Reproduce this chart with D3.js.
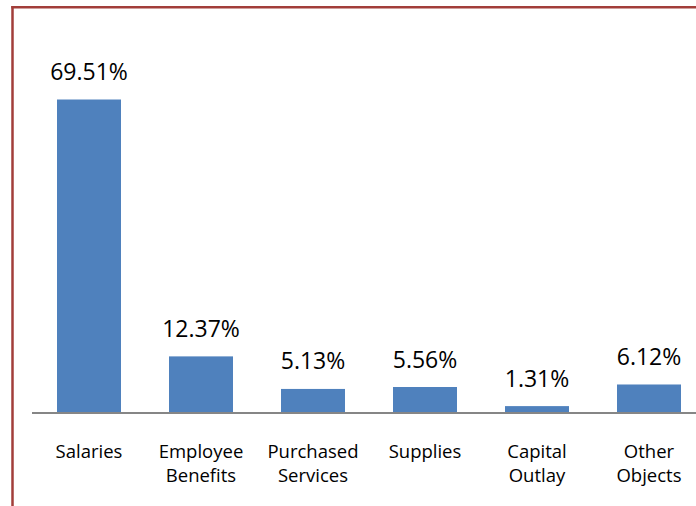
<!DOCTYPE html>
<html>
<head>
<meta charset="utf-8">
<script src="https://cdn.jsdelivr.net/npm/d3@7/dist/d3.min.js"></script>
<style>
  html, body { margin: 0; padding: 0; background: #ffffff; }
  svg { display: block; }
</style>
</head>
<body>
<svg id="chart" width="696" height="506"></svg>
<script>
// Expenditure shares by object
const categories = [
  ["Salaries"],
  ["Employee", "Benefits"],
  ["Purchased", "Services"],
  ["Supplies"],
  ["Capital", "Outlay"],
  ["Other", "Objects"]
];
const values = [69.51, 12.37, 5.13, 5.56, 1.31, 6.12];
const valueLabels = ["69.51%", "12.37%", "5.13%", "5.56%", "1.31%", "6.12%"];

const keys = categories.map(c => c.join(" "));
const svg = d3.select("#chart");
const font = "'Open Sans', 'Noto Sans', sans-serif";

const x = d3.scaleBand()
  .domain(keys)
  .range([33, 705])
  .paddingInner(0.4286)
  .paddingOuter(0.2143);

const y = d3.scaleLinear()
  .domain([0, 70])
  .range([412, 97.3]);

// frame
svg.append("line")
  .attr("x1", 12.5).attr("x2", 12.5)
  .attr("y1", 6).attr("y2", 506)
  .attr("stroke", "#a23e3a").attr("stroke-width", 2.5);
svg.append("line")
  .attr("x1", 11.3).attr("x2", 696)
  .attr("y1", 7.3).attr("y2", 7.3)
  .attr("stroke", "#a23e3a").attr("stroke-width", 2.5);

// bars
svg.selectAll("rect.bar")
  .data(values)
  .join("rect")
  .attr("class", "bar")
  .attr("x", (d, i) => x(keys[i]))
  .attr("width", x.bandwidth())
  .attr("y", d => y(d))
  .attr("height", d => y(0) - y(d))
  .attr("fill", "#4f81bd");

// category axis
const axis = svg.append("g")
  .attr("transform", "translate(0,413)")
  .call(d3.axisBottom(x).tickSize(0).tickFormat(""));
axis.select(".domain")
  .attr("d", "M32,0H705")
  .attr("stroke", "#868686")
  .attr("stroke-width", 2);

// category labels
const labels = svg.selectAll("text.cat")
  .data(categories)
  .join("text")
  .attr("class", "cat")
  .attr("text-anchor", "middle")
  .attr("font-family", font)
  .attr("font-size", 18.5)
  .attr("fill", "#000");
labels.each(function(lines, i) {
  const t = d3.select(this);
  lines.forEach((ln, j) => {
    t.append("tspan")
      .attr("x", x(keys[i]) + x.bandwidth() / 2)
      .attr("y", 457.5 + j * 24)
      .text(ln);
  });
});

// value labels
svg.selectAll("text.val")
  .data(values)
  .join("text")
  .attr("class", "val")
  .attr("text-anchor", "middle")
  .attr("font-family", font)
  .attr("font-size", 23)
  .attr("fill", "#000")
  .attr("x", (d, i) => x(keys[i]) + x.bandwidth() / 2)
  .attr("y", d => y(d) - 19.5)
  .text((d, i) => valueLabels[i]);
</script>
</body>
</html>
